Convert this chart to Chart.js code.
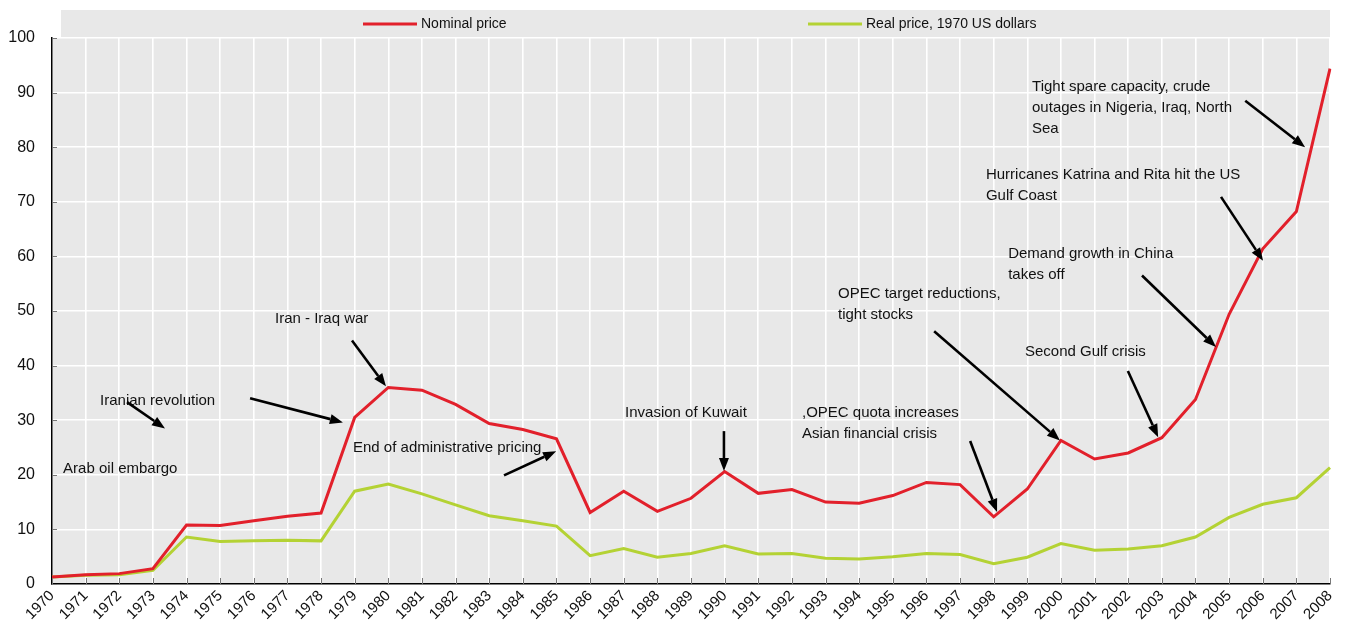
<!DOCTYPE html>
<html>
<head>
<meta charset="utf-8">
<script src="https://cdn.jsdelivr.net/npm/chart.js"></script>
<style>
  html, body { margin: 0; padding: 0; background: #fff; }
  #wrap { width: 1349px; height: 624px; position: relative; }
</style>
</head>
<body>
<div id="wrap"><canvas id="oilChart"></canvas></div>
<script>
// data
const years = ['1970', '1971', '1972', '1973', '1974', '1975', '1976', '1977', '1978', '1979',
    '1980', '1981', '1982', '1983', '1984', '1985', '1986', '1987', '1988', '1989',
    '1990', '1991', '1992', '1993', '1994', '1995', '1996', '1997', '1998', '1999',
    '2000', '2001', '2002', '2003', '2004', '2005', '2006', '2007', '2008'];

const nominalPrice = [1.3, 1.7, 1.9, 2.8, 10.8, 10.7, 11.6, 12.4, 13.0, 30.5,
    36.0, 35.5, 32.9, 29.4, 28.3, 26.6, 13.1, 17.0, 13.3, 15.7,
    20.6, 16.6, 17.3, 15.0, 14.8, 16.2, 18.6, 18.2, 12.3, 17.4,
    26.3, 22.9, 24.0, 26.8, 33.8, 49.4, 61.4, 68.2, 94.4];

const realPrice = [1.3, 1.6, 1.7, 2.5, 8.6, 7.8, 7.9, 8.0, 7.9, 17.0,
    18.3, 16.5, 14.5, 12.5, 11.6, 10.6, 5.2, 6.5, 4.9, 5.6,
    7.0, 5.5, 5.6, 4.7, 4.6, 5.0, 5.6, 5.4, 3.7, 4.9,
    7.4, 6.2, 6.4, 7.0, 8.6, 12.2, 14.6, 15.8, 21.3];

const yMin = 0;
const yMax = 100;
const yStep = 10;

// annotations: text position (x = year index, y = price) and arrow from/to in the same units
const notes = [
    { lines: ['Arab oil embargo'], at: [0.33, 21.0] },
    { lines: ['Iranian revolution'], at: [1.43, 33.5], arrow: [2.23, 33.3, 3.36, 28.5] },
    { lines: [], at: [0, 0], arrow: [5.89, 34.0, 8.65, 29.6] },
    { lines: ['Iran - Iraq war'], at: [6.63, 48.5], arrow: [8.92, 44.6, 9.93, 36.2] },
    { lines: ['End of administrative pricing'], at: [8.95, 24.9], arrow: [13.44, 19.9, 14.99, 24.3] },
    { lines: ['Invasion of Kuwait'], at: [17.04, 31.3], arrow: [19.98, 28.0, 19.98, 20.7] },
    { lines: [',OPEC quota increases', 'Asian financial crisis'], at: [22.30, 31.3], arrow: [27.30, 26.2, 28.10, 13.2] },
    { lines: ['OPEC target reductions,', 'tight stocks'], at: [23.37, 53.2], arrow: [26.23, 46.3, 29.97, 26.3] },
    { lines: ['Second Gulf crisis'], at: [28.93, 42.6], arrow: [31.99, 39.0, 32.89, 26.9] },
    { lines: ['Demand growth in China', 'takes off'], at: [28.43, 60.4], arrow: [32.41, 56.5, 34.61, 43.4] },
    { lines: ['Hurricanes Katrina and Rita hit the US', 'Gulf Coast'], at: [27.77, 75.0], arrow: [34.76, 70.9, 36.01, 59.2] },
    { lines: ['Tight spare capacity, crude', 'outages in Nigeria, Iraq, North', 'Sea'], at: [29.14, 91.1], arrow: [35.48, 88.5, 37.26, 80.0] }
];

const RED = '#e2202b';
const GREEN = '#b4d234';
const PANEL = '#e8e8e8';
const FONT = '"Liberation Sans", Arial, Helvetica, sans-serif';

function drawArrow(ctx, x1, y1, x2, y2) {
    const ang = Math.atan2(y2 - y1, x2 - x1);
    const len = 13, half = 5;
    const bx = x2 - len * Math.cos(ang), by = y2 - len * Math.sin(ang);
    ctx.beginPath();
    ctx.moveTo(x1, y1);
    ctx.lineTo(bx, by);
    ctx.stroke();
    ctx.beginPath();
    ctx.moveTo(x2, y2);
    ctx.lineTo(bx + half * Math.sin(ang), by - half * Math.cos(ang));
    ctx.lineTo(bx - half * Math.sin(ang), by + half * Math.cos(ang));
    ctx.closePath();
    ctx.fill();
}

const panelPlugin = {
    id: 'panel',
    beforeDraw(chart) {
        const { ctx, chartArea } = chart;
        ctx.save();
        ctx.fillStyle = PANEL;
        ctx.fillRect(chartArea.left, chartArea.top, chartArea.right - chartArea.left, chartArea.bottom - chartArea.top);
        // legend band
        ctx.fillRect(61, 10, chartArea.right - 61, chartArea.top - 10);
        ctx.restore();
    },
    afterDraw(chart) {
        const { ctx, chartArea, scales } = chart;
        const xs = scales.x, ys = scales.y;
        ctx.save();

        // small inner ticks on the axes
        ctx.strokeStyle = '#777';
        ctx.lineWidth = 1;
        years.forEach((y, i) => {
            const px = Math.round(xs.getPixelForValue(i)) + 0.5;
            ctx.beginPath();
            ctx.moveTo(px, chartArea.bottom);
            ctx.lineTo(px, chartArea.bottom - 6);
            ctx.stroke();
        });
        for (let v = yMin; v <= yMax; v += yStep) {
            const py = Math.round(ys.getPixelForValue(v)) + 0.5;
            ctx.beginPath();
            ctx.moveTo(chartArea.left, py);
            ctx.lineTo(chartArea.left + 5, py);
            ctx.stroke();
        }

        // legend
        const legendItems = [
            { x: 363, color: RED, label: chart.data.datasets[0].label },
            { x: 808, color: GREEN, label: chart.data.datasets[1].label }
        ];
        ctx.font = '14px ' + FONT;
        ctx.textBaseline = 'middle';
        ctx.textAlign = 'left';
        legendItems.forEach(it => {
            ctx.strokeStyle = it.color;
            ctx.lineWidth = 3;
            ctx.beginPath();
            ctx.moveTo(it.x, 24);
            ctx.lineTo(it.x + 54, 24);
            ctx.stroke();
            ctx.fillStyle = '#111';
            ctx.fillText(it.label, it.x + 58, 24);
        });

        // annotations
        ctx.font = '15px ' + FONT;
        ctx.fillStyle = '#111';
        notes.forEach(n => {
            const tx = xs.getPixelForValue(n.at[0]);
            const ty = ys.getPixelForValue(n.at[1]);
            n.lines.forEach((line, k) => ctx.fillText(line, tx, ty + k * 21));
        });
        ctx.fillStyle = '#000';
        ctx.strokeStyle = '#000';
        ctx.lineWidth = 2.6;
        notes.forEach(n => {
            if (!n.arrow) return;
            const a = n.arrow;
            drawArrow(ctx,
                xs.getPixelForValue(a[0]), ys.getPixelForValue(a[1]),
                xs.getPixelForValue(a[2]), ys.getPixelForValue(a[3]));
        });
        ctx.restore();
    }
};

const ctx = document.getElementById('oilChart').getContext('2d');
const oilChart = new Chart(ctx, {
    type: 'line',
    data: {
        labels: years,
        datasets: [{
            label: 'Nominal price',
            data: nominalPrice,
            borderColor: RED,
            borderWidth: 3,
            pointRadius: 0,
            tension: 0,
            order: 1
        }, {
            label: 'Real price, 1970 US dollars',
            data: realPrice,
            borderColor: GREEN,
            borderWidth: 3,
            pointRadius: 0,
            tension: 0,
            order: 2
        }]
    },
    options: {
        responsive: true,
        maintainAspectRatio: false,
        animation: false,
        layout: { padding: { top: 38, right: 19, left: 0, bottom: 0 } },
        plugins: {
            legend: { display: false },
            tooltip: { enabled: false }
        },
        scales: {
            x: {
                grid: { color: '#ffffff', lineWidth: 1.6, drawTicks: false },
                border: { color: '#000', width: 1.5 },
                ticks: {
                    color: '#111',
                    font: { family: FONT, size: 15 },
                    minRotation: 45,
                    maxRotation: 45,
                    autoSkip: false,
                    padding: 3
                },
                afterFit: function(scale) { scale.height = 40; }
            },
            y: {
                min: yMin,
                max: yMax,
                grid: { color: '#ffffff', lineWidth: 1.6, drawTicks: false },
                border: { color: '#000', width: 1.5 },
                ticks: {
                    stepSize: yStep,
                    color: '#111',
                    font: { family: FONT, size: 16 },
                    padding: 17
                },
                afterFit: function(scale) { scale.width = 52; }
            }
        }
    },
    plugins: [panelPlugin]
});
</script>
</body>
</html>
